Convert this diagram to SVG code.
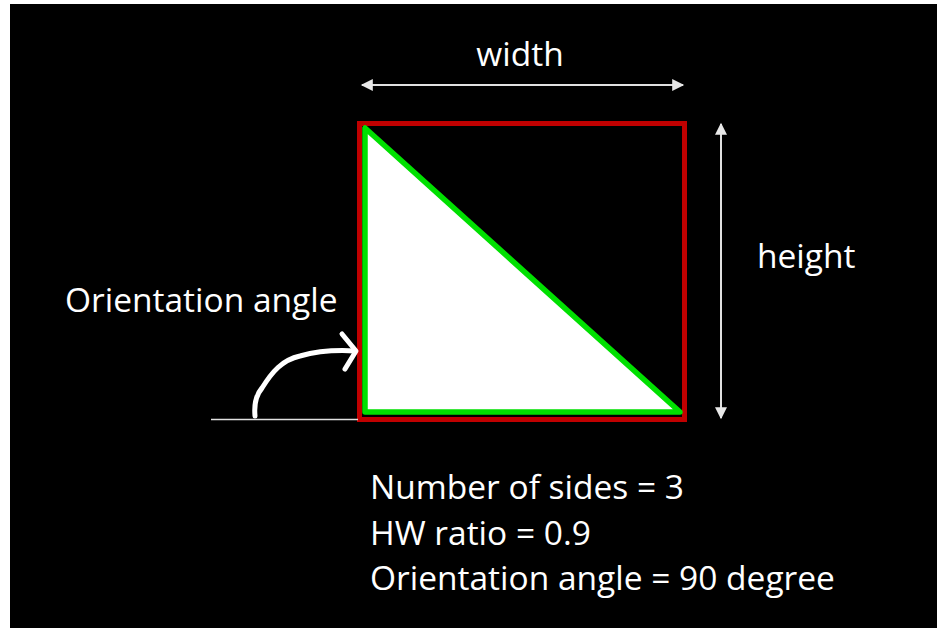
<svg xmlns="http://www.w3.org/2000/svg" width="937" height="628" viewBox="0 0 937 628">
<defs>
<style>
.t{font-family:"Open Sans","Liberation Sans",sans-serif;font-size:33.5px;fill:#fff}
.dim{stroke:#e0e0e0;stroke-width:2;fill:none}
</style>
<marker id="ah" viewBox="0 0 10 10" refX="9" refY="5" markerWidth="13" markerHeight="12" markerUnits="userSpaceOnUse" orient="auto-start-reverse">
<path d="M0,0 L10,5 L0,10 Z" fill="#e8e8e8"/>
</marker>
</defs>
<rect x="0" y="0" width="937" height="628" fill="#fff"/>
<rect x="10" y="4" width="927" height="624" fill="#000"/>
<g id="shape">
<rect x="359.5" y="123.5" width="325" height="296" fill="none" stroke="#c00000" stroke-width="5"/>
<polygon points="365,128 365,412 680,412" fill="#fff" stroke="#00e000" stroke-width="5.5" stroke-linejoin="round"/>
</g>
<g id="connectors">
<line class="dim" x1="362" y1="85" x2="683" y2="85" marker-start="url(#ah)" marker-end="url(#ah)"/>
<line class="dim" x1="721" y1="124" x2="721" y2="418" marker-start="url(#ah)" marker-end="url(#ah)"/>
<line x1="211" y1="419.5" x2="358" y2="419.5" stroke="#e0e0e0" stroke-width="1.5"/>
<path d="M255,416 C254,405 256,395 262,388 C272,372 282,360 300,356 C318,351 338,350 355,351" fill="none" stroke="#fff" stroke-width="5" stroke-linecap="round"/>
<path d="M342,334 L356,351 L345,369" fill="none" stroke="#fff" stroke-width="5" stroke-linecap="round" stroke-linejoin="round"/>
</g>
<g id="labels">
<text class="t" x="520" y="66" text-anchor="middle">width</text>
<text class="t" x="757" y="268">height</text>
<text class="t" x="65" y="312">Orientation angle</text>
<text class="t" x="370" y="499">Number of sides = 3</text>
<text class="t" x="370" y="545">HW ratio = 0.9</text>
<text class="t" x="370" y="590">Orientation angle = 90 degree</text>
</g>
</svg>
